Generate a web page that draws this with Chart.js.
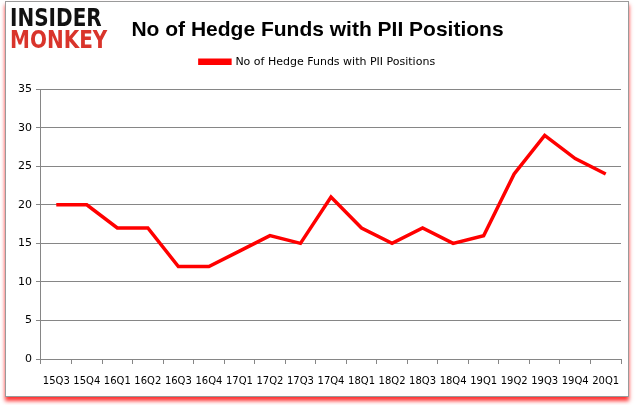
<!DOCTYPE html>
<html>
<head>
<meta charset="utf-8">
<script src="https://cdn.jsdelivr.net/npm/chart.js@4"></script>
<style>
  body { margin: 0; background: #fff; }
  #wrap { position: relative; width: 635px; height: 405px; }
  #frame { position: absolute; left: 5px; top: 1px; width: 622px; height: 394px;
           border: 1px solid #9a9a9a; box-shadow: 0 4px 4px rgba(255,0,0,0.8); background: #fff; }
  canvas { position: absolute; left: 0; top: 0; }
  .logo { position: absolute; left: 10px; font-family: "DejaVu Sans"; font-weight: bold;
          font-size: 25px; line-height: 22px; transform: scaleX(0.8); transform-origin: left; }
</style>
</head>
<body>
<div id="wrap">
  <div id="frame"></div>
  <canvas id="lineChart" width="635" height="405"></canvas>
  <div class="logo" style="top:7px;color:#111;">INSIDER</div>
  <div class="logo" style="top:29px;color:#d9342b;">MONKEY</div>
</div>
<script>
var ctx = document.getElementById('lineChart').getContext('2d');

let quarters = ['15Q3', '15Q4', '16Q1', '16Q2', '16Q3', '16Q4', '17Q1', '17Q2', '17Q3', '17Q4',
                '18Q1', '18Q2', '18Q3', '18Q4', '19Q1', '19Q2', '19Q3', '19Q4', '20Q1']
let funds = [20, 20, 17, 17, 12, 12, 14, 16, 15, 21, 17, 15, 17, 15, 16, 24, 29, 26, 24]
let yTicks = [0, 5, 10, 15, 20, 25, 30, 35]
let red = '#ff0000'
let gray = '#868686'

// extra room under the legend
let legendGap = {
    id: 'legendGap',
    beforeInit(chart) {
        let fit = chart.legend.fit
        chart.legend.fit = function () {
            fit.bind(chart.legend)()
            this.height += 12
        }
    }
}

var chart = new Chart(ctx, {
    type: 'line',
    data: {
        labels: quarters,
        datasets: [{
            label: 'No of Hedge Funds with PII Positions',
            data: funds,
            borderColor: red,
            backgroundColor: red,
            borderWidth: 3.5,
            pointRadius: 0,
            tension: 0
        }]
    },
    options: {
        responsive: false,
        animation: false,
        layout: { padding: { left: 14, right: 14, top: 6, bottom: 7 } },
        plugins: {
            title: {
                display: true,
                text: 'No of Hedge Funds with PII Positions',
                color: '#000',
                font: { family: 'Liberation Sans', size: 21, weight: 'bold' },
                padding: { top: 12, bottom: 4 }
            },
            legend: {
                labels: {
                    color: '#000',
                    font: { family: 'DejaVu Sans', size: 11 },
                    boxWidth: 30,
                    boxHeight: 3,
                    padding: 9
                }
            },
            tooltip: { enabled: false }
        },
        scales: {
            x: {
                offset: true,
                grid: { display: true, drawOnChartArea: false, offset: true, color: gray, tickLength: 5 },
                border: { color: gray },
                ticks: { color: '#000', font: { family: 'DejaVu Sans', size: 10 }, maxRotation: 0, autoSkip: false, padding: 11 }
            },
            y: {
                min: 0,
                max: 35,
                afterBuildTicks: function (axis) { axis.ticks = yTicks.map(v => ({ value: v })) },
                grid: { color: gray, tickLength: 5 },
                border: { color: gray },
                ticks: { color: '#000', font: { family: 'DejaVu Sans', size: 11 }, padding: 4 }
            }
        }
    },
    plugins: [legendGap]
});
</script>
</body>
</html>
